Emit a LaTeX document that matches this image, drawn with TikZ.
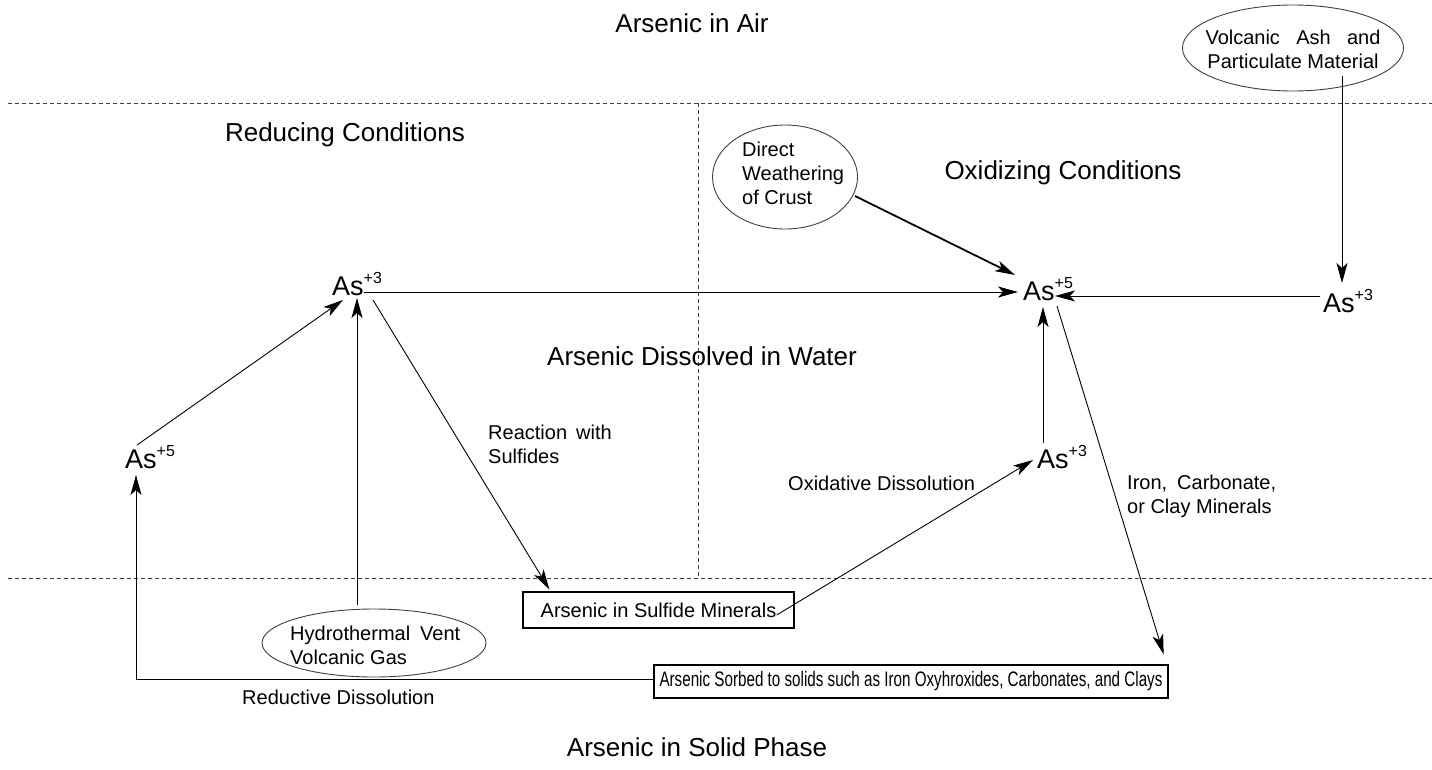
\documentclass[tikz,border=0pt]{standalone}
\usepackage{fontspec}
\setmainfont{Liberation Sans}
\usetikzlibrary{arrows.meta,calc,shapes.geometric}
\newcommand\oxs[1]{\raisebox{12pt}{\fontsize{16}{16}\selectfont #1}}
\begin{document}
\begin{tikzpicture}[x=1pt,y=-1pt,
  big/.style={font=\fontsize{26}{30}\selectfont, inner sep=0pt},
  lab/.style={font=\fontsize{20}{24}\selectfont, inner sep=0pt, align=left},
  asn/.style={font=\fontsize{27}{30}\selectfont, inner sep=0pt, anchor=base west},
  divider/.style={draw=black!75, line width=0.9pt, dash pattern=on 4pt off 3pt},
  conn/.style={draw=black, line width=0.9pt},
  arr/.style={conn, -{Stealth[length=20pt,width=11pt,inset=5pt]}},
  bubble/.style={draw=black!75, line width=0.9pt, ellipse, inner sep=0pt},
  boxn/.style={draw=black, line width=1.3pt, rectangle, inner sep=0pt, font=\fontsize{20}{24}\selectfont}]
\fill[white] (0,0) rectangle (1432,769);
\useasboundingbox (0,0) rectangle (1432,769);

% zone dividers
\coordinate (tl) at (8,103);
\coordinate (tr) at (1432,103);
\coordinate (bl) at (8,578);
\coordinate (br) at (1432,578);
\coordinate (vt) at (698,103);
\coordinate (vb) at (698,578);
\draw[divider] (tl) -- (tr);
\draw[divider] (bl) -- (br);
\draw[divider] (vt) -- (vb);

% zone titles
\node[big] (air) at (692,23) {Arsenic in Air};
\node[big] (red) at (345,135) {Reducing Conditions};
\node[big] (oxi) at (1063,173) {Oxidizing Conditions};
\node[big] (wat) at (702,356) {Arsenic Dissolved in Water};
\node[big] (sol) at (697,747) {Arsenic in Solid Phase};

% sources (ellipses)
\node[bubble, minimum width=221pt, minimum height=86pt] (volc) at (1293,48) {};
\node[lab, align=center] (volct) at (1293,49) {\makebox[175pt][s]{Volcanic Ash and}\\Particulate Material};
\node[bubble, minimum width=145pt, minimum height=104pt] (dir) at (785,177) {};
\node[lab, anchor=west] (dirt) at (742,173) {Direct\\Weathering\\of Crust};
\node[bubble, minimum width=224pt, minimum height=68pt] (hyd) at (374,643) {};
\node[lab, anchor=west] (hydt) at (290,645) {Hydrothermal\hspace{10pt}Vent\\Volcanic Gas};

% arsenic species
\node[asn] (asL3) at (332,295) {As\oxs{+3}};
\node[asn] (asL5) at (125,468) {As\oxs{+5}};
\node[asn] (asR5) at (1023,300) {As\oxs{+5}};
\node[asn] (asRR3) at (1323,312) {As\oxs{+3}};
\node[asn] (asRL3) at (1037,468) {As\oxs{+3}};

% solid phases
\node[boxn, minimum width=271pt, minimum height=36pt] (sulf) at (658.5,610) {Arsenic in Sulfide Minerals};
\node[boxn, minimum width=514pt, minimum height=33pt, font=\fontsize{21}{24}\selectfont] (sorb) at (911,681.5)
  {\resizebox{503pt}{\height}{Arsenic Sorbed to solids such as Iron Oxyhroxides, Carbonates, and Clays}};

% process labels
\node[lab, anchor=west] (lreact) at (488,444) {Reaction\hspace{9pt}with\\Sulfides};
\node[lab, anchor=west] (loxd) at (788,483) {Oxidative Dissolution};
\node[lab, anchor=west] (liron) at (1127,496) {Iron,\hspace{10pt}Carbonate,\\or Clay Minerals};
\node[lab, anchor=west] (lred) at (242,697) {Reductive Dissolution};

% connectors
\draw[arr] ($(asL5.base west)+(12pt,23pt)$) -- ($(asL3.base west)+(11pt,-5pt)$);
\draw[arr] ($(hyd.north)+(-17pt,4pt)$) -- ($(asL3.base west)+(25pt,-3pt)$);
\draw[arr] ($(asL3.base west)+(32pt,3pt)$) -- ($(asR5.base west)+(-5pt,8pt)$);
\draw[arr] ($(asL3.base west)+(41pt,-5pt)$) -- ($(sulf.north west)+(27pt,2pt)$);
\draw[arr] ($(sulf.east)+(-18pt,-5pt)$) -- ($(asRL3.base west)+(-4pt,8pt)$);
\draw[arr] ($(asRL3.base west)+(6pt,25pt)$) -- ($(asR5.base west)+(20pt,-7pt)$);
\draw[arr] ($(asRR3.base west)+(-3pt,16pt)$) -- ($(asR5.base west)+(32pt,4pt)$);
\draw[arr] ($(volc.center)+(49pt,-28pt)$) -- ($(asRR3.base west)+(19pt,29pt)$);
\draw[arr, line width=1.8pt] ($(dir.center)+(70pt,-19pt)$) -- ($(asR5.base west)+(-8pt,25pt)$);
\draw[arr] ($(asR5.base west)+(34pt,-6pt)$) -- ($(sorb.north east)+(-5pt,10pt)$);
\draw[arr] ($(sorb.west)+(0pt,2.5pt)$) -| ($(asL5.base west)+(11pt,-7pt)$);
\end{tikzpicture}
\end{document}
